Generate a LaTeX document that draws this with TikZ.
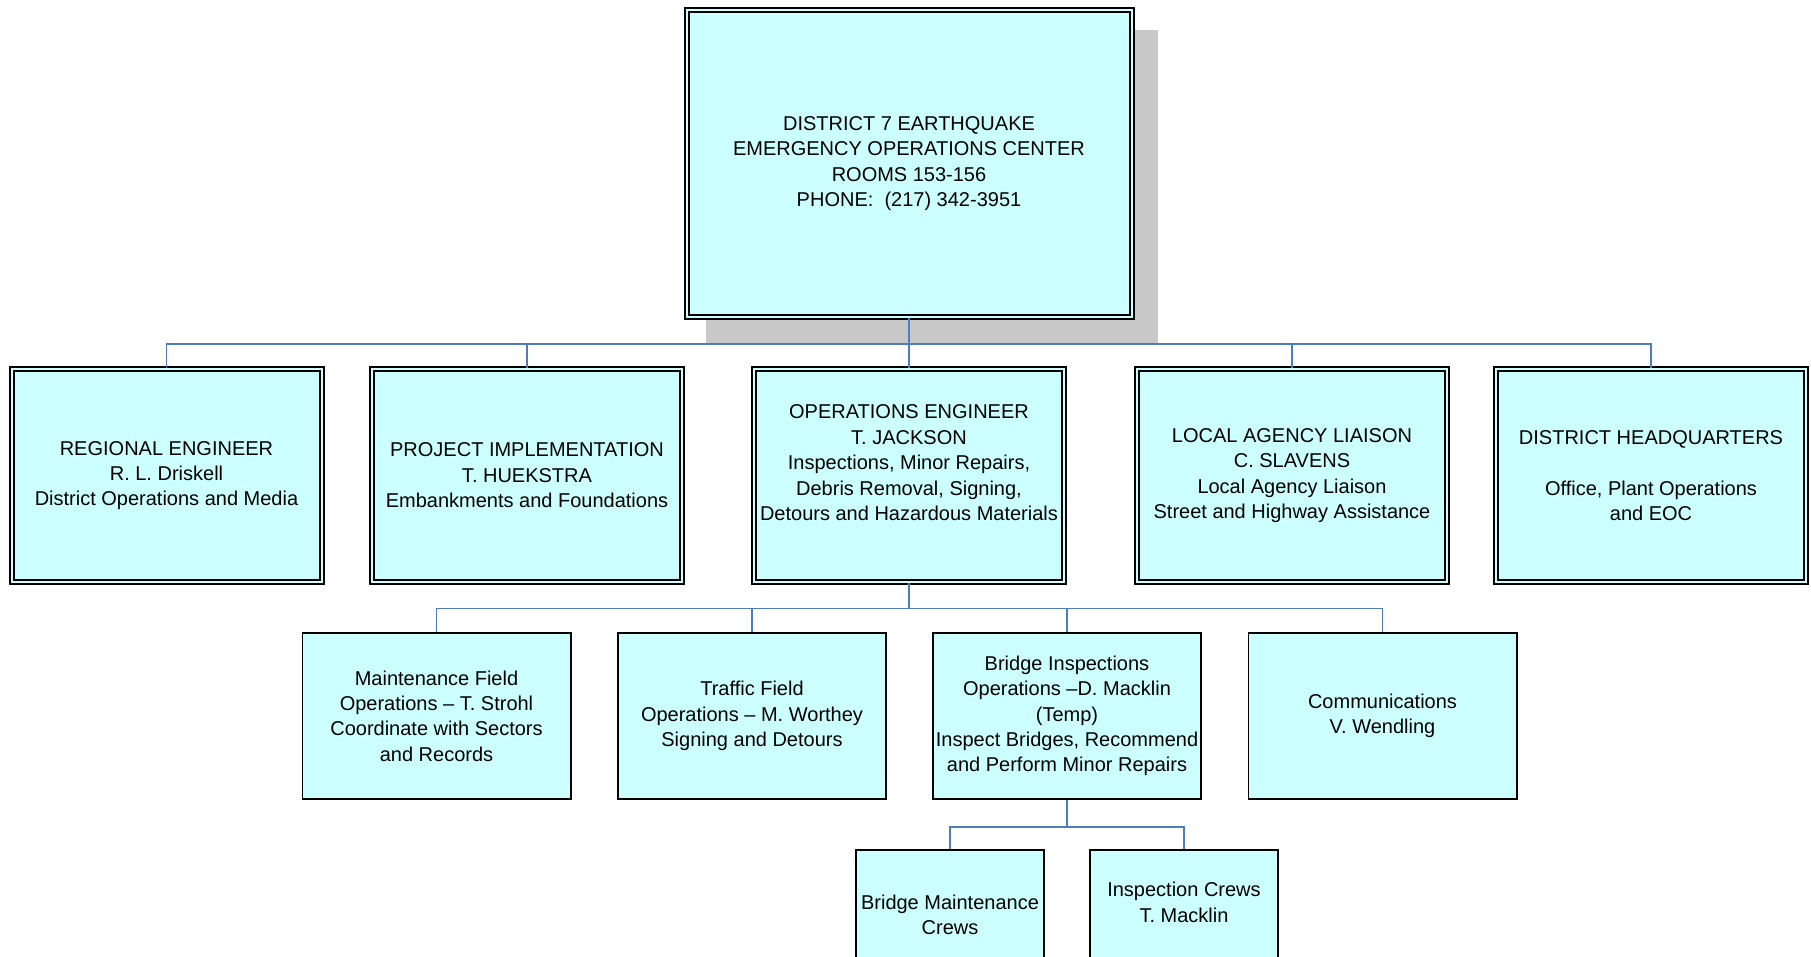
\documentclass[tikz,border=0pt]{standalone}
\usepackage{fontspec}
\setmainfont{Liberation Sans}
\definecolor{cyanfill}{RGB}{204,255,255}
\definecolor{shadowgray}{RGB}{200,200,200}
\definecolor{connblue}{RGB}{74,126,190}
\begin{document}
\begin{tikzpicture}[x=0.5pt,y=-0.5pt,
  boxtext/.style={font=\fontsize{10}{12.7}\selectfont, align=center, inner sep=1pt},
  dblbox/.style={boxtext, rectangle, draw=black, fill=cyanfill, line width=1pt,
    double=cyanfill, double distance=1pt},
  rootbox/.style={dblbox, minimum width=222.5pt, minimum height=153.5pt},
  lvlone/.style={dblbox, minimum width=155pt, minimum height=106.5pt},
  lvltwo/.style={boxtext, rectangle, draw=black, fill=cyanfill, line width=0.9pt,
    minimum width=134.1pt, minimum height=83.1pt},
  lvlthree/.style={boxtext, rectangle, draw=black, fill=cyanfill, line width=0.9pt,
    minimum width=94.1pt, minimum height=65.1pt},
  wire/.style={draw=connblue, line width=0.9pt},
  shadowbox/.style={fill=shadowgray, draw=none}]
\clip (0,0) rectangle (1811,957);
\fill[white] (0,0) rectangle (1811,957);

% shadow of root
\fill[shadowbox] (706,30) rectangle (1158,343);

% root
\node[rootbox] (root) at (909,163.5) {DISTRICT 7 EARTHQUAKE\\EMERGENCY OPERATIONS CENTER\\ROOMS 153-156\\PHONE:\ \ (217) 342-3951};

% level one
\node[lvlone] (reg) at (166.5,475.5) {REGIONAL ENGINEER\\R. L. Driskell\\District Operations and Media};
\node[lvlone] (proj) at (527,475.5) {PROJECT IMPLEMENTATION\\T. HUEKSTRA\\Embankments and Foundations};
\node[lvlone] (ops) at (909,475.5) {OPERATIONS ENGINEER\\T. JACKSON\\Inspections, Minor Repairs,\\Debris Removal, Signing,\\Detours and Hazardous Materials\\\mbox{}};
\node[lvlone] (local) at (1292,475.5) {LOCAL AGENCY LIAISON\\C. SLAVENS\\Local Agency Liaison\\Street and Highway Assistance};
\node[lvlone] (hq) at (1651,475.5) {DISTRICT HEADQUARTERS\\\mbox{}\\Office, Plant Operations\\and EOC};

% level two
\node[lvltwo] (maint) at (436.5,716) {Maintenance Field\\Operations -- T. Strohl\\Coordinate with Sectors\\and Records};
\node[lvltwo] (traffic) at (752,716) {Traffic Field\\Operations -- M. Worthey\\Signing and Detours};
\node[lvltwo] (bridge) at (1067,716) {Bridge Inspections\\Operations --D. Macklin\\(Temp)\\Inspect Bridges, Recommend\\and Perform Minor Repairs};
\node[lvltwo] (comm) at (1382.5,716) {Communications\\V. Wendling};

% level three
\node[lvlthree] (bmaint) at (950,915) {Bridge Maintenance\\Crews};
\node[lvlthree] (icrews) at (1184,915) {Inspection Crews\\T. Macklin\\\mbox{}};

% buses
\coordinate (busone) at (909,344);
\coordinate (bustwo) at (909,608.5);
\coordinate (busthree) at (1067,827);

\draw[wire] (root.south) -- (busone);
\draw[wire] (busone) -| (reg.north);
\draw[wire] (busone) -| (proj.north);
\draw[wire] (busone) -- (ops.north);
\draw[wire] (busone) -| (local.north);
\draw[wire] (busone) -| (hq.north);

\draw[wire] (ops.south) -- (bustwo);
\draw[wire] (bustwo) -| (maint.north);
\draw[wire] (bustwo) -| (traffic.north);
\draw[wire] (bustwo) -| (bridge.north);
\draw[wire] (bustwo) -| (comm.north);

\draw[wire] (bridge.south) -- (busthree);
\draw[wire] (busthree) -| (bmaint.north);
\draw[wire] (busthree) -| (icrews.north);
\end{tikzpicture}
\end{document}
